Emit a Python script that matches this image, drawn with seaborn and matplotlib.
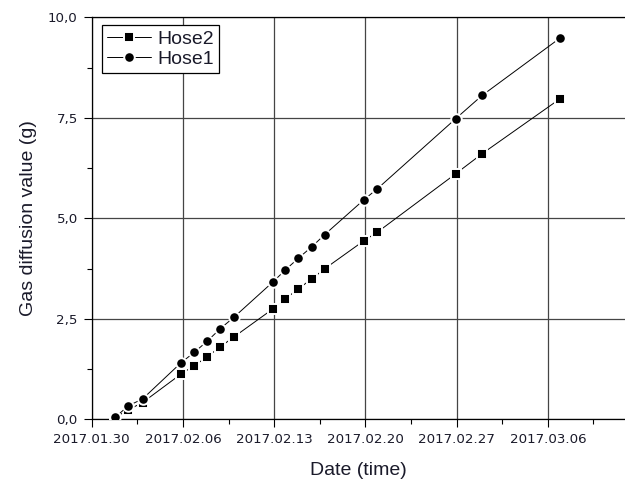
import datetime as dt

import matplotlib
matplotlib.use("Agg")
import matplotlib.pyplot as plt
from matplotlib.ticker import MultipleLocator, FuncFormatter
import numpy as np
import pandas as pd
import seaborn as sns

# Measurement times, in days after 2017-01-30
days = [1.8, 2.8, 3.9, 6.85, 7.87, 8.87, 9.87, 10.9, 13.9, 14.86, 15.85,
        16.9, 17.88, 20.9, 21.92, 27.92, 29.95, 35.94]

# Cumulative gas diffusion (g)
hose1 = [0.05, 0.34, 0.51, 1.41, 1.67, 1.95, 2.26, 2.54, 3.42, 3.72, 4.01,
         4.30, 4.60, 5.47, 5.74, 7.48, 8.06, 9.49]
hose2 = [0.05, 0.24, 0.42, 1.13, 1.34, 1.56, 1.81, 2.05, 2.75, 3.00, 3.25,
         3.50, 3.75, 4.45, 4.66, 6.11, 6.61, 7.98]

start_date = dt.date(2017, 1, 30)
x_label = "Date (time)"
y_label = "Gas diffusion value (g)"

df = pd.DataFrame({
    "day": days * 2,
    "value": hose2 + hose1,
    "hose": ["Hose2"] * len(days) + ["Hose1"] * len(days),
})

sns.set_theme(style="ticks")
plt.rcParams["font.family"] = ["DejaVu Sans"]

fig = plt.figure(figsize=(6.25, 4.82), dpi=100)
ax = fig.add_axes([0.1467, 0.1297, 0.855, 0.834])

markers = {"Hose2": "s", "Hose1": "o"}
sizes = {"Hose2": 6.8, "Hose1": 7.6}
for name in ["Hose2", "Hose1"]:
    sub = df[df["hose"] == name]
    sns.lineplot(data=sub, x="day", y="value", ax=ax, color="black",
                 linewidth=0.7, marker=markers[name], markersize=sizes[name],
                 markerfacecolor="black", markeredgecolor="white",
                 markeredgewidth=1.4, label=name, zorder=3)

ax.set_xlim(0, 41.0)
ax.set_ylim(0, 10)

ax.xaxis.set_major_locator(MultipleLocator(7))
ax.xaxis.set_minor_locator(MultipleLocator(3.5))
ax.yaxis.set_major_locator(MultipleLocator(2.5))
ax.yaxis.set_minor_locator(MultipleLocator(1.25))


def fmt_date(v, pos):
    d = start_date + dt.timedelta(days=int(round(v)))
    return d.strftime("%Y.%m.%d")


def fmt_val(v, pos):
    return f"{v:.1f}".replace(".", ",")


ax.xaxis.set_major_formatter(FuncFormatter(fmt_date))
ax.yaxis.set_major_formatter(FuncFormatter(fmt_val))

ax.tick_params(which="major", direction="out", length=6, width=0.8,
               color="black", labelsize=9.6, labelcolor="#1a1a2a", pad=4)
ax.tick_params(which="minor", direction="out", length=3.5, width=0.8,
               color="black")
ax.tick_params(top=False, right=False)

ax.grid(True, which="major", color="#454545", linewidth=0.9)
ax.set_axisbelow(True)
for sp in ax.spines.values():
    sp.set_color("black")
    sp.set_linewidth(0.9)
    sp.set_visible(True)

label_font = dict(family="Liberation Sans", size=14, color="#1a1a2a")
ax.set_xlabel(x_label, labelpad=11, **label_font)
ax.set_ylabel(y_label, labelpad=8, **label_font)

handles, labels = ax.get_legend_handles_labels()
leg = ax.legend(handles, labels, loc="upper left",
                bbox_to_anchor=(0.019, 0.981), borderaxespad=0,
                frameon=True, fancybox=False,
                edgecolor="black", framealpha=1, borderpad=0.25,
                handlelength=2.3, handletextpad=0.3, labelspacing=0.15,
                prop={"family": "Liberation Sans", "size": 14})
leg.get_frame().set_linewidth(0.9)
for t in leg.get_texts():
    t.set_color("#1a1a2a")

fig.savefig("out.png", dpi=100)
